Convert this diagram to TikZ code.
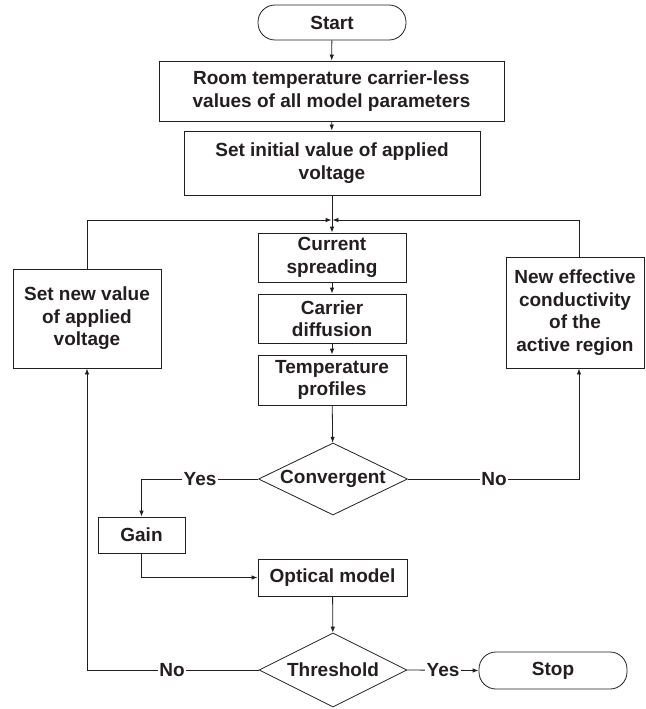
\documentclass[tikz,border=0pt]{standalone}
\usepackage{fontspec}
\setmainfont{Liberation Sans}
\usetikzlibrary{arrows.meta,shapes.geometric,calc}
\definecolor{ink}{RGB}{35,31,32}
\begin{document}
\begin{tikzpicture}[x=1pt,y=-1pt,
  every node/.style={font=\fontsize{19}{22.5}\selectfont\bfseries, text=ink},
  box/.style={draw=ink, line width=0.8pt, rectangle, align=center, inner sep=0pt},
  term/.style={box, rounded corners=17pt},
  decision/.style={draw=ink, line width=0.8pt, diamond, shape aspect=2, inner sep=0pt, align=center},
  conn/.style={draw=ink, line width=0.8pt, -{Latex[length=6pt,width=4.5pt]}},
  lbl/.style={fill=white, inner sep=1.5pt}]
\useasboundingbox (0,0) rectangle (645,709);

\node[term, minimum width=148pt, minimum height=35pt] (start) at (332,22.5) {Start};
\node[box, minimum width=345pt, minimum height=60pt] (room) at (331.5,91) {Room temperature carrier-less\\values of all model parameters};
\node[box, minimum width=296pt, minimum height=64pt] (init) at (332,163) {Set initial value of applied\\voltage};
\node[box, minimum width=148pt, minimum height=99pt] (left) at (87,318.5) {Set new value\\of applied\\voltage};
\node[box, minimum width=138pt, minimum height=111pt] (right) at (575,312.5) {New effective\\conductivity\\of the\\active region};
\node[box, minimum width=148pt, minimum height=49pt] (cur) at (332,257.5) {Current\\spreading};
\node[box, minimum width=148pt, minimum height=49pt] (car) at (332,318.5) {Carrier\\diffusion};
\node[box, minimum width=148pt, minimum height=50pt] (temp) at (332,380) {Temperature\\profiles};
\node[decision, minimum width=149pt, minimum height=72pt] (conv) at (333,479) {Convergent};
\node[box, minimum width=87pt, minimum height=36pt] (gain) at (141.5,535) {Gain};
\node[box, minimum width=149pt, minimum height=37pt] (opt) at (332.5,577.5) {Optical model};
\node[decision, minimum width=148pt, minimum height=74pt] (thr) at (333,670) {Threshold};
\node[term, minimum width=148pt, minimum height=37pt] (stop) at (553,670.5) {Stop};

\coordinate (J) at (332,220);
\coordinate (rtop) at ($(right.north)+(4,0)$);
\coordinate (rbot) at ($(right.south)+(4,0)$);

\draw[conn] (start) -- (room);
\draw[conn] (room) -- (init);
\draw[conn] (init) -- (cur);
\draw[conn, shorten >=0.4pt] (left.north) |- (J);
\draw[conn, shorten >=0.4pt] (rtop) |- (J);
\draw[conn] (cur) -- (car);
\draw[conn] (car) -- (temp);
\draw[conn] (temp) -- (conv);
\draw[conn] (conv.west) -| (gain.north);
\draw[conn] (conv.east) -| (rbot);
\draw[conn] (gain.south) |- (opt.west);
\draw[conn] (opt) -- (thr);
\draw[conn] (thr.west) -| (left.south);
\draw[conn] (thr.east) -- (stop.west);

\node[lbl] (yes1) at (200,479) {Yes};
\node[lbl] (no1) at (494,479) {No};
\node[lbl] (no2) at (172,670) {No};
\node[lbl] (yes2) at (443,670) {Yes};
\end{tikzpicture}
\end{document}
